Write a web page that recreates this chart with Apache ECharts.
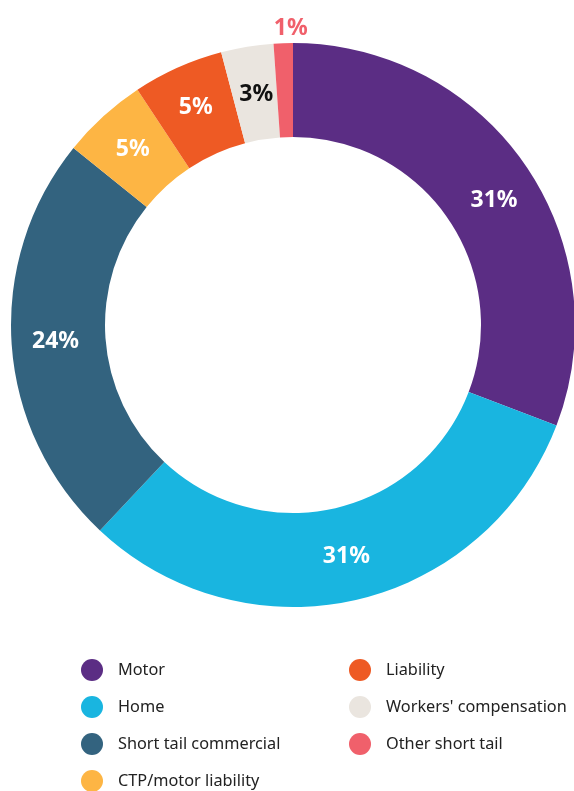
<!DOCTYPE html>
<html>
<head>
<meta charset="utf-8">
<script src="https://cdn.jsdelivr.net/npm/echarts@6/dist/echarts.min.js"></script>
<style>
html,body{margin:0;padding:0;background:#fff;}
#chart{width:574px;height:791px;}
</style>
</head>
<body>
<div id="chart"></div>
<script>
const categories = ['Motor', 'Home', 'Short tail commercial', 'CTP/motor liability', 'Liability', "Workers' compensation", 'Other short tail'];
const values = [30.8, 31.2, 23.8, 4.9, 5.2, 3.0, 1.1];
const colors = ['#5B2D84', '#19B5E0', '#33637F', '#FDB544', '#EE5A24', '#EAE5DF', '#F0606B'];
const legendLeft = ['Motor', 'Home', 'Short tail commercial', 'CTP/motor liability'];
const legendRight = ['Liability', "Workers' compensation", 'Other short tail'];

const labelFont = 'Noto Sans';
const data = categories.map((name, i) => {
  const item = { name: name, value: values[i], itemStyle: { color: colors[i] } };
  if (i === 0) item.label = { offset: [5, 10] };
  if (i === 5) item.label = { color: '#111', offset: [2, 4] };
  if (i === 6) item.label = { color: '#F0606B', offset: [6, -59] };
  return item;
});

const legendBase = {
  orient: 'vertical',
  icon: 'circle',
  itemWidth: 22,
  itemHeight: 22,
  itemGap: 15,
  padding: 0,
  height: 140,
  selectedMode: false,
  textStyle: { fontFamily: labelFont, fontSize: 16.3, color: '#222', padding: [0, 0, 0, 10] }
};

const chart = echarts.init(document.getElementById('chart'));
chart.setOption({
  animation: false,
  legend: [
    Object.assign({}, legendBase, { left: 81, top: 659, data: legendLeft }),
    Object.assign({}, legendBase, { left: 349, top: 659, data: legendRight })
  ],
  series: [{
    type: 'pie',
    center: [293, 325],
    radius: [188, 282],
    startAngle: 90,
    clockwise: true,
    avoidLabelOverlap: false,
    itemStyle: { borderWidth: 0 },
    label: {
      show: true,
      position: 'inside',
      fontFamily: labelFont,
      fontSize: 23,
      fontWeight: 'bold',
      color: '#fff',
      formatter: p => Math.round(p.value) + '%'
    },
    labelLine: { show: false },
    data: data
  }]
});
</script>
</body>
</html>
